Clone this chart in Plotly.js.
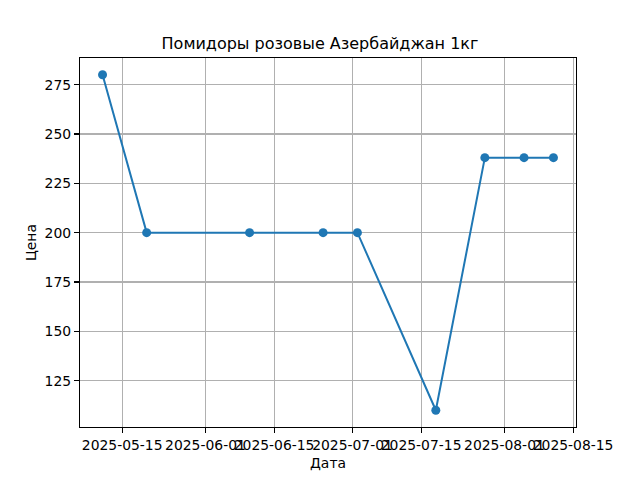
<!DOCTYPE html>
<html>
<head>
<meta charset="utf-8">
<script src="https://cdn.plot.ly/plotly-3.0.1.min.js"></script>
<style>html,body{margin:0;padding:0;background:#fff}#chart{width:640px;height:480px}</style>
</head>
<body>
<div id="chart"></div>
<script>
const dates = ["2025-05-11","2025-05-20","2025-06-10","2025-06-25","2025-07-02","2025-07-18","2025-07-28","2025-08-05","2025-08-11"];
const prices = [280, 200, 200, 200, 200, 110, 238, 238, 238];
const xTickVals = ["2025-05-15","2025-06-01","2025-06-15","2025-07-01","2025-07-15","2025-08-01","2025-08-15"];
const yTickVals = [125, 150, 175, 200, 225, 250, 275];
const titleText = "Помидоры розовые Азербайджан 1кг";
const xLabel = "Дата";
const yLabel = "Цена";

// 5% margins like matplotlib
const t0 = new Date(dates[0] + "T00:00:00Z").getTime();
const t1 = new Date(dates[dates.length-1] + "T00:00:00Z").getTime();
const dx = (t1 - t0) * 0.05;
const fmt = t => new Date(t).toISOString().slice(0,19).replace("T"," ");
const yMin = Math.min(...prices), yMax = Math.max(...prices);
const dy = (yMax - yMin) * 0.05;

const font = {family: "DejaVu Sans, sans-serif", color: "#000"};

Plotly.newPlot("chart", [{
  x: dates, y: prices, type: "scatter", mode: "lines+markers",
  line: {color: "#1f77b4", width: 2},
  marker: {color: "#1f77b4", size: 9}
}], {
  width: 640, height: 480,
  margin: {l: 80, r: 64, t: 58, b: 53, pad: 0},
  paper_bgcolor: "#fff", plot_bgcolor: "#fff",
  showlegend: false,
  font: Object.assign({size: 13.9}, font),
  title: {text: titleText, font: Object.assign({size: 16}, font), x: 0.5, xanchor: "center", y: 0.91, yanchor: "middle"},
  xaxis: {
    type: "date", range: [fmt(t0 - dx), fmt(t1 + dx)],
    tickmode: "array", tickvals: xTickVals, ticktext: xTickVals,
    ticks: "outside", ticklen: 5, tickwidth: 1.1, tickcolor: "#000",
    showgrid: true, gridcolor: "#b0b0b0", gridwidth: 1.1,
    showline: true, linecolor: "#000", linewidth: 1.1, mirror: true,
    zeroline: false, tickangle: 0,
    tickfont: Object.assign({size: 13.9}, font),
    title: {text: xLabel, font: Object.assign({size: 13.9}, font), standoff: 6}
  },
  yaxis: {
    range: [yMin - dy, yMax + dy],
    tickmode: "array", tickvals: yTickVals,
    ticks: "outside", ticklen: 5, tickwidth: 1.1, tickcolor: "#000",
    showgrid: true, gridcolor: "#b0b0b0", gridwidth: 1.1,
    showline: true, linecolor: "#000", linewidth: 1.1, mirror: true,
    zeroline: false,
    tickfont: Object.assign({size: 13.9}, font),
    title: {text: yLabel, font: Object.assign({size: 13.9}, font), standoff: 4}
  }
}, {staticPlot: true});
</script>
</body>
</html>
